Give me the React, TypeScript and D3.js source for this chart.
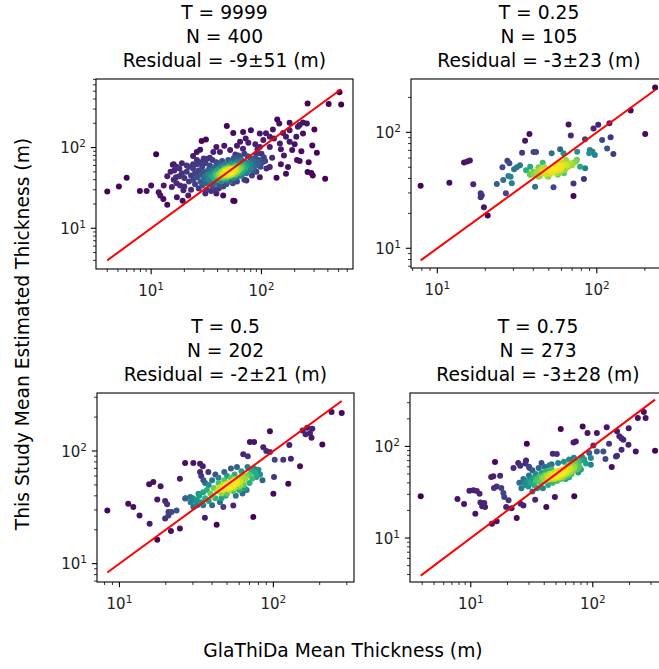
import React from 'react';
import * as d3 from 'd3';

// ---------- DATA (GlaThiDa thickness, This-study thickness) in metres ----------
const titlesT = ['T = 9999', 'T = 0.25', 'T = 0.5', 'T = 0.75'];
const titlesN = ['N = 400', 'N = 105', 'N = 202', 'N = 273'];
const titlesR = ['Residual = -9±51 (m)', 'Residual = -3±23 (m)', 'Residual = -2±21 (m)', 'Residual = -3±28 (m)'];

const ptsT9999: [number, number][] = [
  [4.0,28.6],[5.1,33],[6.0,42.4],[7.9,29],[9.1,29],[10,34],[11.1,82.6],[11.7,28],[12.1,25.5],[12.9,23],[14,19.5],[15.7,61.4],[16.2,52],[16.8,43],[15.4,32.4],[17.1,24.3],[18.3,34],[19.6,29.5],[19.3,22],[21.7,25.5],[24,78.8],[25.9,88],[27.8,94],[28.7,121],[31.4,126],[48.5,184.5],[55.5,152],[68.2,156],[80.2,164],[96.6,149],[127,168],[139,223],[145,199],[180,203],[214,181],[258,199],[302,168],[262,353],[510,484],[528,343],[407,346],[378,41],[283,48.3],[292,45],[262,49.8],[268,66],[318,86],[289,106],[222,68],[190,93],[167,47.5],[137,42.4],[119,57.5],[174,57.5],[111,55],[100,84],[119,102],[147,112],[167,136],[180,118],[157,152],[207,136],[238,149],[222,190],[238,205],[180,164],[119,136],[104,124],[96.6,102],[90.2,84],[80,73],[90,60],[84,52],[96.6,43],[73,39],[55.5,22],[57,21.7],[68,97],[52,93],[42,88],[36.6,88],[34,75],[39,102],[26,70],[30,73],[34,35.6],[39,27],[45,25.5],[31,27],
  [110,150],[130,130],[150,95],[160,80],[200,110],[210,70],[230,90],[150,62],[125,75],[108,68],[98,62],[92,95],[88,110],[76,115],[72,130],[64,118],[60,105],[58,82],[62,78],[46,105],
  [16,40],[17,36],[18,55],[19,48],[20,42],[20,33],[21,50],[22,38],[22,58],[23,45],[23,30],[24,55],[24,40],[25,35],[25,48],[26,62],[26,43],[27,52],[27,31],[28,38],[28,46],[29,58],[29,34],[30,42],[30,50],[31,36],[31,64],[32,45],[32,30],[33,53],[33,40],[34,47],[34,60],[35,38],[35,44],[36,52],[36,33],[37,42],[37,57],[38,48],[38,36],[39,45],[39,66],[40,52],[40,40],[41,47],[41,31],[42,56],[42,43],[43,50],[43,38],[44,46],[44,60],[45,52],[45,42],[46,48],[46,56],[47,45],[47,51],[48,49],[48,40],[49,53],[49,46],[50,50],[50,58],[51,47],[51,44],[52,52],[52,48],[53,55],[53,45],[54,50],[54,62],[55,47],[55,53],[56,49],[56,42],[57,56],[57,51],[58,46],[58,60],[59,53],[60,49],[60,66],[61,56],[62,44],[62,52],[63,60],[64,48],[65,55],[66,70],[66,45],[67,58],[68,50],[69,62],[70,40],[71,55],[72,66],[73,48],[74,60],[75,78],[76,52],[78,64],[80,56],[82,45],[84,68],[86,58],[88,75],[90,50],[92,65],[95,70],[98,58],[102,66],[105,76],[48,35],[45,33],[52,38],[55,36],[60,38],[42,34],[38,30],[35,29],[40,62],[44,68],[50,70],[56,74],[62,80],[36,70],[32,72],[28,66],[24,62],[21,60],[19,64],[18,44],[17,58],[16,62],[15,50],[14,44],[13,34],[47,62],[53,66],[58,72],[64,76],[70,84],[49,43],[51,55],[47,48],[53,50],[50,46],[46,52],[54,47],[48,54],
  [46,47],[48,50],[50,48],[52,50],[54,52],[49,51],[51,49],[53,48],[47,49],[55,50],[50,53],[48,46],[52,47],[46,50],[54,49],[49,48],[51,52],[53,51],[47,52],[55,47],[50,51],[52,53],[48,48],[56,52],[44,48],[58,54],[45,45],[57,50],[49,55],[51,46],[46,49],[53,53],[50,47],[48,52],[52,49],[54,55],[47,46],[55,54],[43,46],[60,56]
];

const ptsT025: [number, number][] = [
  [7.86,34.7],[11.9,36.8],[14.7,55],[15.4,56],[16,57.3],[16.8,35.6],[18.7,29.8],[18.7,27.5],[19,28.6],[19.6,22.6],[20.7,19.2],[23.6,35.8],[25.6,50],[25.9,38.8],[26.9,29.8],[27.5,57],[28.3,54],[27.9,42],[28.8,41.5],[29.3,36.3],[30.3,48],[31.5,50],[33,52],[34,66.8],[35.5,84.8],[37.8,96.8],[38.2,50.6],[40.1,67.6],[41.6,67.6],[41,34],[38.2,42.8],[40.1,43.6],[43.1,41.5],[44,47.3],[45.8,54.8],[46.3,44.3],[48.6,47.3],[49.7,41.5],[50.9,48.3],[52.1,65.9],[53,45.8],[53.5,33.6],[54.8,50.6],[56,44.3],[57.5,54],[58.9,71.3],[58.9,47.3],[60.3,50.6],[61.8,65.9],[62.2,44.3],[64.2,57.7],[64.9,52],[66.5,117],[68.1,54],[68.7,94],[69.4,53.3],[71.4,36.2],[71.4,28.2],[73.9,56],[75.3,68],[78.6,50.6],[83,39.6],[84.3,87],[84.5,49],[89.6,65.9],[90.5,70.4],[94,68],[97.2,63.8],[95.3,108],[102,116],[108,86],[116,72.7],[120,120],[122,90.7],[127,65],[163,154],[201,96.8],[232,244],
  [42,45],[44,42],[46,46],[48,44],[50,48],[52,46],[54,49],[56,47],[58,51],[60,49],[62,52],[47,50],[51,44],[55,52],[53,45],[49,42],[57,43],[45,48],[63,47],[66,50],[70,52],[72,55],[75,58],[43,50],[40,46],[38,44],[36,47],[61,55],[59,45],[64,53]
];

const ptsT05: [number, number][] = [
  [8.34,29.7],[11.4,34.1],[12.3,31.8],[13.5,26.8],[15.6,50.6],[16.6,53.1],[15.7,22.6],[17.6,16.3],[18.5,48.6],[17.6,37.2],[19.8,36],[20.4,33.6],[20.8,28.7],[20.8,26.8],[19.8,25.2],[21.6,19.5],[21.8,28.7],[23.5,29.7],[24.7,20.5],[24.7,56.8],[26.7,78.2],[26.7,37.8],[28.9,39.1],[30.2,78.2],[30.2,31.8],[31.8,37],[32.6,41.8],[33.4,77.1],[33.4,65.1],[34.8,73.1],[35.1,54.9],[35.9,25.6],[37.8,65.1],[42.8,22.2],[47.3,31.8],[54.9,32.9],[63.7,93.4],[68.2,89.7],[70.4,120],[75,120],[74.1,26],[77.8,58.8],[86,108],[90,100],[95,150],[95,98],[102,83.8],[101,58.8],[100,41.8],[116,83.8],[125,51.3],[130,85.4],[127,113],[149,73.1],[155,152],[166,161],[173,144],[177,131],[162,141],[179,158],[208,114],[239,222],[278,217],
  [27,38],[29,35],[31,36],[33,40],[35,43],[37,45],[39,42],[41,47],[43,44],[45,48],[47,50],[49,46],[51,52],[53,49],[55,54],[57,51],[59,56],[61,53],[63,58],[65,55],[67,60],[70,62],[73,57],[76,64],[80,68],[44,52],[46,42],[48,55],[50,49],[52,45],[54,50],[56,47],[58,53],[60,48],[62,60],[64,50],[66,57],[40,40],[38,50],[36,38],[34,35],[32,33],[30,38],[42,38],[46,38],[50,42],[55,44],[60,45],[65,47],[70,52],[72,66],[75,70],[68,72],[62,66],[56,62],[50,60],[44,58],[40,55],[36,52],[34,60],[42,62],[48,65],[53,70],[58,72],[57,40],[63,42],[67,45],[78,60],[82,62],[85,55],[45,35],[40,33],[35,33],[38,36],[49,40],[53,58],[47,45],[51,47],[55,49],[49,51],[53,52],[57,55],[61,50],[44,45],[46,47],[48,48],[50,50],[52,51],[54,53],[56,56],
  [52,50],[54,51],[56,52],[55,49],[53,48],[57,53],[51,49],[58,51],[54,48],[56,54]
];

const ptsT075: [number, number][] = [
  [3.89,28.5],[7.78,26.7],[8.81,23.5],[9.75,32.9],[10.5,33.2],[11.2,32.6],[11.8,30.4],[10.9,18.4],[12,24.4],[12.4,22.2],[12.9,24.1],[13.1,21.8],[14.7,46.3],[15.3,47.1],[15.8,67.5],[15.5,35.1],[16.3,36.6],[17.4,47.8],[17.8,35.1],[18.5,31],[14.9,14.3],[16.3,15.2],[18.8,28],[19.5,21.8],[20.4,25.8],[21.6,21.2],[22.4,58],[23.8,16.5],[24.5,65.8],[25.4,61.5],[25.6,23.7],[27,22.6],[28.4,70.3],[28.8,107],[30.3,58],[27.6,39.8],[29.6,36.6],[32,32.2],[33.7,26.2],[41.6,21.8],[48.9,28],[54.6,155],[50.7,82.5],[47,83],[69.5,110],[72.6,113],[70.5,28.5],[82.6,165],[90.5,140],[93.5,84.9],[96.4,74.6],[96.4,63.1],[101,102],[108,140],[108,88.2],[122,88.2],[127,72.8],[130,162],[136,107],[143,59.5],[155,77.8],[158,146],[158,79],[165,129],[172,123],[178,118],[172,92],[196,104],[197,158],[225,88.2],[234,204],[262,237],[271,204],[324,89.6],
  [25,40],[27,44],[29,42],[30,48],[32,45],[34,50],[36,46],[38,52],[40,48],[42,54],[44,50],[46,56],[48,52],[50,48],[52,54],[54,50],[56,56],[58,52],[60,58],[62,54],[64,60],[66,56],[68,62],[70,58],[72,64],[75,66],[78,60],[80,70],[85,72],[88,65],[26,35],[28,38],[31,40],[33,38],[35,42],[37,40],[39,44],[41,42],[43,46],[45,44],[47,48],[49,45],[51,50],[53,47],[55,52],[57,49],[59,54],[61,50],[63,56],[65,52],[67,58],[69,54],[71,60],[74,56],[77,68],[82,76],[76,52],[80,56],[44,62],[40,60],[36,58],[32,55],[30,60],[28,65],[38,66],[46,64],[52,66],[58,68],[64,72],[70,75],[35,35],[39,35],[43,38],[47,40],[51,42],[55,44],[59,46],[63,48],[67,50],[45,50],[49,48],[53,51],[57,47],[50,53],[54,46],[48,44],[52,49],[56,51],[60,52],[46,49],[42,48],[38,46],[34,44],[30,42],[62,62],[66,64],[72,70],[60,44],[64,46],
  [48,46],[50,47],[52,48],[51,45],[49,48],[53,49],[54,47],[50,49],[47,45],[52,46],[55,50],[51,48]
];

const panelData = [ptsT9999, ptsT025, ptsT05, ptsT075];

// ---------- LAYOUT ----------
const W = 659;
const H = 669;
const FONT = "'DejaVu Sans', sans-serif";
const TITLE_SIZE = 18.7;
const TICK_SIZE = 15;

type Layout = { left: number; top: number; right: number; bottom: number; xDom: [number, number]; yDom: [number, number]; bw: number };
const layouts: Layout[] = [
  { left: 96, top: 79, right: 353, bottom: 269, xDom: [0.5, 2.83], yDom: [0.495, 2.85], bw: 0.9 },
  { left: 411, top: 79, right: 667, bottom: 268, xDom: [0.835, 2.44], yDom: [0.83, 2.46], bw: 1.35 },
  { left: 97, top: 393, right: 354, bottom: 582, xDom: [0.854, 2.524], yDom: [0.837, 2.515], bw: 1.2 },
  { left: 410, top: 393, right: 666, bottom: 582, xDom: [0.502, 2.6], yDom: [0.52, 2.583], bw: 1.25 },
];

function density(pts: [number, number][], bwMul: number): number[] {
  const lx = pts.map((p) => Math.log10(p[0]));
  const ly = pts.map((p) => Math.log10(p[1]));
  const n = pts.length;
  const mx = d3.mean(lx) as number;
  const my = d3.mean(ly) as number;
  let sxx = 0, syy = 0, sxy = 0;
  for (let i = 0; i < n; i++) {
    sxx += (lx[i] - mx) ** 2;
    syy += (ly[i] - my) ** 2;
    sxy += (lx[i] - mx) * (ly[i] - my);
  }
  sxx /= n - 1; syy /= n - 1; sxy /= n - 1;
  const f = Math.pow(n, -1 / 6) * bwMul;
  const a = sxx * f * f, b = sxy * f * f, c = syy * f * f;
  const det = a * c - b * b;
  const ia = c / det, ib = -b / det, ic = a / det;
  return pts.map((_, i) => {
    let s = 0;
    for (let j = 0; j < n; j++) {
      const dx = lx[i] - lx[j];
      const dy = ly[i] - ly[j];
      s += Math.exp(-0.5 * (dx * dx * ia + 2 * dx * dy * ib + dy * dy * ic));
    }
    return s;
  });
}

function logTicks(dom: [number, number]) {
  const out: { v: number; major: boolean }[] = [];
  for (let k = Math.floor(dom[0]); k <= Math.ceil(dom[1]); k++) {
    for (let m = 1; m <= 9; m++) {
      const v = m * Math.pow(10, k);
      const l = Math.log10(v);
      if (l >= dom[0] - 1e-9 && l <= dom[1] + 1e-9) out.push({ v, major: m === 1 });
    }
  }
  return out;
}

function Pow10({ v }: { v: number }) {
  const e = Math.round(Math.log10(v));
  return (
    <>
      <tspan>10</tspan>
      <tspan fontSize={10.5} dy={-6}>{e}</tspan>
    </>
  );
}

function Panel({ idx }: { idx: number }) {
  const pts = panelData[idx];
  const L = layouts[idx];
  const x = d3.scaleLog().domain([10 ** L.xDom[0], 10 ** L.xDom[1]]).range([L.left, L.right]);
  const y = d3.scaleLog().domain([10 ** L.yDom[0], 10 ** L.yDom[1]]).range([L.bottom, L.top]);
  const dens = density(pts, L.bw);
  const [dmin, dmax] = d3.extent(dens) as [number, number];
  const order = d3.range(pts.length).sort((a, b) => dens[a] - dens[b]);
  const col = (d: number) => d3.interpolateViridis((d - dmin) / (dmax - dmin));
  const [lo, hi] = d3.extent(pts, (p) => p[0]) as [number, number];
  const line = d3.line<number>().x((v) => x(v)).y((v) => y(v));
  const xt = logTicks(L.xDom);
  const yt = logTicks(L.yDom);
  const cx = (L.left + L.right) / 2;
  const clipId = `clip-${idx}`;
  return (
    <g>
      <defs>
        <clipPath id={clipId}>
          <rect x={L.left} y={L.top} width={L.right - L.left} height={L.bottom - L.top} />
        </clipPath>
      </defs>
      <g clipPath={`url(#${clipId})`}>
        {order.map((i) => (
          <circle key={i} cx={x(pts[i][0])} cy={y(pts[i][1])} r={3} fill={col(dens[i])} />
        ))}
        <path d={line([lo, hi]) as string} stroke="#ff0000" strokeWidth={2} fill="none" />
      </g>
      <rect x={L.left} y={L.top} width={L.right - L.left} height={L.bottom - L.top} fill="none" stroke="#000" strokeWidth={1.1} />
      {xt.map((t, i) => (
        <line key={'xt' + i} x1={x(t.v)} x2={x(t.v)} y1={L.bottom} y2={L.bottom + (t.major ? 5.2 : 3)} stroke="#000" strokeWidth={t.major ? 1.1 : 0.8} />
      ))}
      {yt.map((t, i) => (
        <line key={'yt' + i} y1={y(t.v)} y2={y(t.v)} x1={L.left} x2={L.left - (t.major ? 5.2 : 3)} stroke="#000" strokeWidth={t.major ? 1.1 : 0.8} />
      ))}
      {xt.filter((t) => t.major).map((t, i) => (
        <text key={'xl' + i} x={x(t.v)} y={L.bottom + 27} textAnchor="middle" fontSize={TICK_SIZE} fill="#222">
          <Pow10 v={t.v} />
        </text>
      ))}
      {yt.filter((t) => t.major).map((t, i) => (
        <text key={'yl' + i} x={L.left - 10} y={y(t.v) + 5.5} textAnchor="end" fontSize={TICK_SIZE} fill="#222">
          <Pow10 v={t.v} />
        </text>
      ))}
      <text x={cx} y={L.top - 60} textAnchor="middle" fontSize={TITLE_SIZE}>{titlesT[idx]}</text>
      <text x={cx} y={L.top - 36.5} textAnchor="middle" fontSize={TITLE_SIZE}>{titlesN[idx]}</text>
      <text x={cx} y={L.top - 12.5} textAnchor="middle" fontSize={TITLE_SIZE}>{titlesR[idx]}</text>
    </g>
  );
}

export default function App() {
  return (
    <svg width={W} height={H} style={{ position: 'absolute', left: 0, top: 0, background: '#fff' }} fontFamily={FONT}>
      <rect width={W} height={H} fill="#fff" />
      {layouts.map((_, i) => (
        <Panel key={i} idx={i} />
      ))}
      <text x={343} y={657} textAnchor="middle" fontSize={TITLE_SIZE}>GlaThiDa Mean Thickness (m)</text>
      <text transform="translate(29,334) rotate(-90)" textAnchor="middle" fontSize={TITLE_SIZE}>This Study Mean Estimated Thickness (m)</text>
    </svg>
  );
}
